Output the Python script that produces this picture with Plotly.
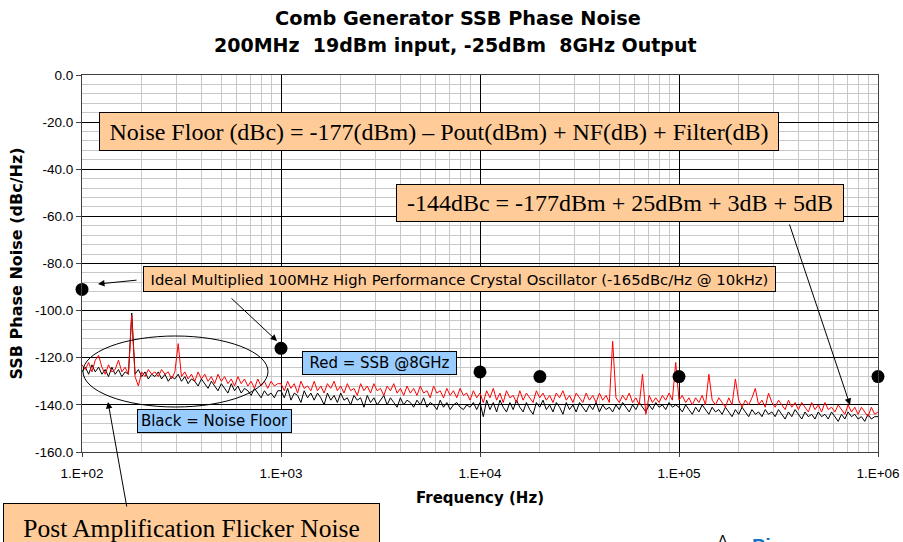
import plotly.graph_objects as go

# ---------------- data ----------------
MANTISSA = [1.000, 1.039, 1.080, 1.122, 1.166, 1.212, 1.259, 1.308, 1.359, 1.413,
            1.468, 1.525, 1.585, 1.647, 1.711, 1.778, 1.848, 1.920, 1.995, 2.073,
            2.154, 2.239, 2.326, 2.418, 2.512, 2.611, 2.713, 2.818, 2.929, 3.043,
            3.162, 3.286, 3.415, 3.548, 3.687, 3.831, 3.981, 4.137, 4.299, 4.467,
            4.642, 4.823, 5.012, 5.208, 5.412, 5.623, 5.843, 6.072, 6.310, 6.556,
            6.813, 7.079, 7.356, 7.645, 7.943, 8.254, 8.577, 8.913, 9.261, 9.624]
DECADES = [100, 1000, 10000, 100000]
END_FREQ = 1000000

RED_100HZ = [-123, -125, -122, -126, -121, -119, -124, -127, -123, -126,
             -125, -121, -126, -124, -127, -102, -128, -132, -126, -128,
             -125, -127, -126, -128, -125, -127, -126, -129, -126, -114,
             -128, -126, -129, -127, -130, -126, -129, -127, -130, -128,
             -131, -127, -130, -128, -131, -129, -132, -128, -131, -129,
             -132, -130, -133, -129, -132, -130, -133, -130, -132, -131]
RED_1KHZ = [-131, -134, -130, -133, -131, -135, -130, -133, -132, -134,
            -130, -134, -132, -135, -131, -133, -130, -134, -132, -135,
            -131, -134, -133, -136, -131, -134, -132, -135, -131, -134,
            -133, -136, -132, -134, -131, -135, -133, -136, -132, -135,
            -133, -136, -132, -135, -134, -137, -132, -135, -134, -137,
            -133, -136, -134, -137, -133, -136, -135, -138, -134, -137]
RED_10KHZ = [-135, -139, -134, -137, -133, -138, -135, -139, -134, -137,
             -136, -139, -134, -138, -135, -137, -139, -134, -137, -135,
             -138, -136, -139, -135, -137, -134, -138, -136, -139, -135,
             -137, -139, -135, -138, -136, -139, -135, -138, -136, -139,
             -113, -137, -139, -136, -138, -135, -139, -137, -140, -127,
             -144, -136, -139, -137, -139, -136, -138, -135, -138, -122]
RED_100KHZ = [-138, -136, -139, -137, -140, -137, -139, -136, -140, -127,
              -138, -140, -137, -139, -141, -137, -140, -129, -138, -141,
              -138, -140, -137, -133, -140, -138, -141, -135, -139, -141,
              -138, -140, -142, -138, -141, -139, -142, -139, -141, -143,
              -139, -142, -140, -143, -139, -142, -141, -143, -140, -142,
              -144, -140, -143, -141, -144, -141, -143, -145, -141, -144]
RED_END = -143

BLACK_100HZ = [-126, -124, -127, -123, -126, -124, -127, -125, -128, -124,
               -127, -125, -128, -126, -127, -101, -127, -125, -128, -126,
               -129, -127, -128, -126, -129, -127, -130, -128, -129, -127,
               -130, -128, -131, -129, -130, -132, -129, -131, -133, -130,
               -132, -134, -131, -133, -135, -131, -134, -132, -135, -133,
               -134, -136, -133, -135, -137, -134, -136, -135, -137, -134]
BLACK_1KHZ = [-134, -137, -133, -138, -135, -136, -139, -134, -137, -135,
              -138, -135, -137, -140, -135, -138, -136, -139, -135, -138,
              -137, -140, -136, -138, -137, -141, -136, -139, -137, -140,
              -138, -136, -140, -137, -139, -141, -137, -140, -138, -139,
              -141, -138, -140, -137, -141, -139, -140, -142, -138, -141,
              -139, -142, -140, -139, -141, -142, -140, -141, -139, -142]
BLACK_10KHZ = [-139, -145, -138, -142, -139, -143, -138, -141, -143, -139,
               -142, -138, -141, -143, -139, -142, -144, -139, -141, -138,
               -142, -140, -143, -139, -141, -144, -139, -142, -140, -143,
               -139, -141, -143, -140, -142, -139, -143, -140, -142, -141,
               -143, -140, -142, -139, -141, -143, -140, -142, -139, -141,
               -143, -140, -142, -139, -141, -140, -142, -139, -141, -140]
BLACK_100KHZ = [-141, -143, -140, -142, -144, -141, -143, -140, -142, -144,
                -141, -143, -142, -144, -141, -143, -145, -142, -144, -141,
                -143, -145, -142, -144, -143, -145, -142, -144, -143, -145,
                -142, -144, -146, -143, -145, -142, -144, -146, -143, -145,
                -144, -146, -143, -145, -144, -146, -143, -145, -147, -144,
                -146, -143, -145, -144, -146, -145, -147, -144, -146, -145]
BLACK_END = -145

DOT_FREQ = [100, 1000, 10000, 20000, 100000, 1000000]
DOT_DB = [-91, -116, -126, -128, -128, -128]

Y_TICKS = [0, -20, -40, -60, -80, -100, -120, -140, -160]
Y_LABELS = ["0.0", "-20.0", "-40.0", "-60.0", "-80.0", "-100.0", "-120.0", "-140.0", "-160.0"]
X_TICKS = [100, 1000, 10000, 100000, 1000000]
X_LABELS = ["1.E+02", "1.E+03", "1.E+04", "1.E+05", "1.E+06"]

# ---------------- build ----------------
FREQ = [m * d for d in DECADES for m in MANTISSA] + [END_FREQ]
RED = RED_100HZ + RED_1KHZ + RED_10KHZ + RED_100KHZ + [RED_END]
BLACK = BLACK_100HZ + BLACK_1KHZ + BLACK_10KHZ + BLACK_100KHZ + [BLACK_END]

SANS = "Liberation Sans, Arial, sans-serif"
WIDE = "DejaVu Sans, Verdana, sans-serif"
SERIF = "Liberation Serif, Times New Roman, serif"
ORANGE = "#FFCC99"
BLUE = "#99CCFF"

L, R, T, B = 82, 25, 75, 90
PW, PH = 903 - L - R, 542 - T - B


def px_x(px):
    return (px - L) / PW


def px_y(py):
    return (542 - B - py) / PH


fig = go.Figure()
fig.add_trace(go.Scatter(x=FREQ, y=BLACK, mode="lines", line=dict(color="#000000", width=1),
                         cliponaxis=False, showlegend=False, hoverinfo="skip"))
fig.add_trace(go.Scatter(x=FREQ, y=RED, mode="lines", line=dict(color="#FF0000", width=1),
                         cliponaxis=False, showlegend=False, hoverinfo="skip"))
fig.add_trace(go.Scatter(x=DOT_FREQ, y=DOT_DB, mode="markers",
                         marker=dict(color="#000000", size=13), cliponaxis=False,
                         showlegend=False, hoverinfo="skip"))

fig.update_layout(
    width=903, height=542,
    margin=dict(l=L, r=R, t=T, b=B, autoexpand=False),
    paper_bgcolor="white", plot_bgcolor="white",
    font=dict(family=SANS, color="black", size=13),
    showlegend=False,
)

fig.update_xaxes(
    type="log", range=[2, 6], automargin=False,
    tickvals=X_TICKS, ticktext=X_LABELS,
    ticks="outside", ticklen=4, tickcolor="#404040",
    ticklabelstandoff=5,
    tickfont=dict(family=SANS, size=13.5),
    showgrid=True, gridcolor="#000000", gridwidth=1,
    minor=dict(dtick="D1", showgrid=True, gridcolor="#C8C8C8", gridwidth=1, ticks=""),
    showline=True, linecolor="#404040", linewidth=1, mirror=True,
    zeroline=False,
    title=dict(text="<b>Frequency (Hz)</b>", font=dict(family=WIDE, size=15), standoff=12),
)
fig.update_yaxes(
    range=[-160, 0], automargin=False,
    tickvals=Y_TICKS, ticktext=Y_LABELS,
    ticks="outside", ticklen=5, tickcolor="#404040",
    tickfont=dict(family=SANS, size=13.5),
    showgrid=True, gridcolor="#000000", gridwidth=1,
    minor=dict(dtick=4, showgrid=True, gridcolor="#C8C8C8", gridwidth=1, ticks=""),
    showline=True, linecolor="#404040", linewidth=1, mirror=True,
    zeroline=False,
    title=dict(text="<b>SSB Phase Noise (dBc/Hz)</b>", font=dict(family=WIDE, size=16), standoff=8),
)

ann = []
# titles
ann.append(dict(text="<b>Comb Generator SSB Phase Noise</b>", xref="paper", yref="paper",
                x=px_x(458), y=px_y(18), showarrow=False,
                font=dict(family=WIDE, size=19.3), xanchor="center", yanchor="middle"))
ann.append(dict(text="<b>200MHz\u00a0\u00a019dBm input, -25dBm\u00a0\u00a08GHz Output</b>",
                xref="paper", yref="paper", x=px_x(455), y=px_y(45), showarrow=False,
                font=dict(family=WIDE, size=19), xanchor="center", yanchor="middle"))


def box(text, x, y, w, h, fill, family, size, pad=4, xref="x", yref="y"):
    return dict(text=text, x=x, y=y, xref=xref, yref=yref, showarrow=False,
                width=w, height=h, bgcolor=fill, bordercolor="#000000", borderwidth=1,
                borderpad=pad, font=dict(family=family, size=size, color="black"),
                xanchor="center", yanchor="middle", align="center")


ann.append(box("Noise Floor (dBc) = -177(dBm) \u2013 Pout(dBm) + NF(dB) + Filter(dB)",
               px_x(439), px_y(131.5), 670, 29, ORANGE, SERIF, 24, xref="paper", yref="paper"))
ann.append(box("-144dBc = -177dBm + 25dBm + 3dB + 5dB",
               px_x(619.5), px_y(203), 438, 28, ORANGE, SERIF, 24, xref="paper", yref="paper"))
ann.append(box("Ideal Multiplied 100MHz High Performance Crystal Oscillator (-165dBc/Hz @ 10kHz)",
               px_x(459.5), px_y(279), 625, 18, ORANGE, WIDE, 14.8, pad=3, xref="paper", yref="paper"))
ann.append(box("Red = SSB @8GHz", px_x(379.5), px_y(363), 147, 16, BLUE, WIDE, 15, pad=3,
               xref="paper", yref="paper"))
ann.append(box("Black = Noise Floor", px_x(214.5), px_y(421), 147, 16, BLUE, WIDE, 15, pad=3,
               xref="paper", yref="paper"))
ann.append(box("Post Amplification Flicker Noise", px_x(191.5), px_y(528),
               367, 40, ORANGE, SERIF, 25.5, xref="paper", yref="paper"))


# arrows (head position in pixels, tail offset in pixels)
def arrow(hx, hy, ax, ay):
    return dict(text="", x=px_x(hx), y=px_y(hy), xref="paper", yref="paper", ax=ax, ay=ay,
                showarrow=True, arrowhead=2, arrowsize=1.3, arrowwidth=1,
                arrowcolor="#000000", standoff=0)


ann.append(arrow(98, 284, 40, -4))
ann.append(arrow(277, 341, -47, -44))
ann.append(arrow(850, 405, -61, -182))
ann.append(arrow(108, 402, 19, 106))

# logo fragment at the bottom edge (cut off in the original too)
ann.append(dict(text="<b>Pi</b>", xref="paper", yref="paper", x=px_x(750), y=px_y(533),
                showarrow=False, xanchor="left", yanchor="top",
                font=dict(family=SANS, size=20, color="#1874C4")))
ann.append(dict(text="\u039b", xref="paper", yref="paper", x=px_x(716), y=px_y(530),
                showarrow=False, xanchor="left", yanchor="top",
                font=dict(family=SANS, size=14, color="#000000")))

fig.update_layout(annotations=ann)

# ellipse around the flicker-noise region
fig.add_shape(type="circle", xref="paper", yref="paper",
              x0=px_x(83), x1=px_x(268), y0=px_y(407), y1=px_y(336),
              line=dict(color="#000000", width=1))

fig.write_html("out.html", config={"displayModeBar": False},
               post_script="document.body.style.margin='0';document.body.style.overflow='hidden';")
